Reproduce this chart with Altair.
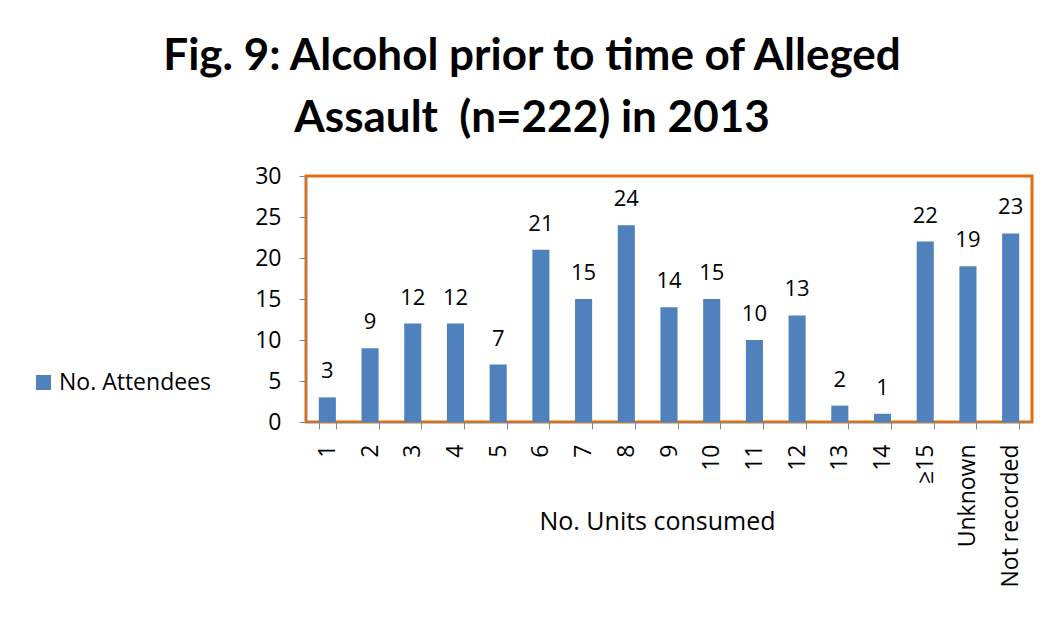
import altair as alt
import pandas as pd

categories = ["1", "2", "3", "4", "5", "6", "7", "8", "9", "10", "11", "12",
              "13", "14", "≥15", "Unknown", "Not recorded"]
attendees = [3, 9, 12, 12, 7, 21, 15, 24, 14, 15, 10, 13, 2, 1, 22, 19, 23]
series_name = "No. Attendees"
title_lines = ["Fig. 9: Alcohol prior to time of Alleged",
               "Assault\u00a0\u00a0(n=222) in 2013"]

df = pd.DataFrame({"units": categories, "count": attendees, "series": series_name})

FONT = "Open Sans"
TFONT = "Lato"
BLUE = "#4F81BD"

xenc = alt.X("units:N", sort=categories,
             scale=alt.Scale(paddingInner=0.6, paddingOuter=0.3),
             axis=alt.Axis(title="No. Units consumed", labelAngle=270,
                           labelAlign="right", labelBaseline="middle",
                           labelFontSize=23, labelFont=FONT, labelColor="#000",
                           labelPadding=15, tickBand="extent", tickSize=7,
                           tickColor="#868686", domainColor="#868686",
                           titleFontSize=25, titleFont=FONT, titleFontWeight="normal",
                           titleColor="#000", titleX=351, titleY=107,
                           titleAlign="center", titleBaseline="alphabetic"))
yenc = alt.Y("count:Q", scale=alt.Scale(domain=[0, 30]),
             axis=alt.Axis(title=None, values=[0, 5, 10, 15, 20, 25, 30], grid=False,
                           labelFontSize=23, labelFont=FONT, labelColor="#000",
                           tickSize=7, tickColor="#868686", domainColor="#868686",
                           labelPadding=18))

bars = alt.Chart(df).mark_bar(color=BLUE).encode(
    x=xenc, y=yenc,
    color=alt.Color("series:N", scale=alt.Scale(range=[BLUE]),
                    legend=alt.Legend(title=None, orient="none", legendX=-274,
                                      legendY=195, symbolType="square", symbolSize=225,
                                      symbolStrokeWidth=0, labelOffset=4,
                                      labelFontSize=23, labelFont=FONT, labelColor="#000"))
)
labels = alt.Chart(df).mark_text(fontSize=22, font=FONT, color="#000",
                                 baseline="alphabetic", dy=-19).encode(
    x=alt.X("units:N", sort=categories), y="count:Q", text="count:Q"
)

chart = (bars + labels).properties(
    width=726, height=246,
    title=alt.TitleParams(text=title_lines,
                          fontSize=44, font=TFONT, fontWeight="bold", color="#000",
                          lineHeight=62, anchor="middle", dx=-137, offset=24),
    autosize=alt.AutoSizeParams(type="none"),
    padding={"left": 298, "top": 168, "right": 11, "bottom": 196},
).configure_view(stroke="#E46C0A", strokeWidth=3)

chart.save("out.html", embed_options={"renderer": "svg", "actions": False})
